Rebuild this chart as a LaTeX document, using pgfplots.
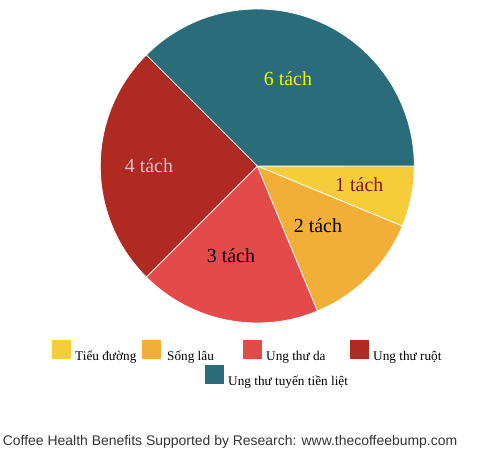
\documentclass[border=0pt]{standalone}
\usepackage{pgfplots}
\pgfplotsset{compat=1.18}
\usepackage{fontspec}
\setmainfont{Liberation Serif}
\newfontfamily\arialfont{Liberation Sans}
\definecolor{cYellow}{RGB}{245,205,58}
\definecolor{cOrange}{RGB}{242,175,55}
\definecolor{cRed}{RGB}{229,74,74}
\definecolor{cDark}{RGB}{175,42,34}
\definecolor{cTeal}{RGB}{42,108,122}
\definecolor{lblYellow}{RGB}{245,240,20}
\definecolor{lblPink}{RGB}{215,195,200}
\definecolor{lblDark}{RGB}{140,20,25}
% values: 1, 2, 3, 4, 6 tach (total 16 -> 22.5 degrees each), clockwise from 0 degrees
\pgfplotsset{
  slice/.style={draw=white, line width=0.75bp, data cs=polar},
}
\begin{document}
\begin{tikzpicture}
\path[use as bounding box] (0,0) rectangle (498bp,462bp);
\begin{axis}[
  at={(0,0)}, anchor=south west, scale only axis,
  x=1bp, y=1bp,
  xmin=-257.3, xmax=240.7, ymin=-296, ymax=166,
  hide axis, clip=false,
  legend image code/.code={\fill[#1, draw=none] (0bp,-3bp) rectangle (19bp,16bp);},
  legend style={draw=none, fill=none, at={(axis cs:-205.3,-174)}, anchor=north west,
    inner sep=0pt, legend columns=-1, font=\fontsize{13.3}{15}\selectfont,
    column sep=0pt,
    /tikz/every odd column/.style={column sep=4bp},
    /tikz/every even column/.style={column sep=0pt},
    nodes={inner sep=0pt}},
]
\addplot[slice, fill=cYellow] coordinates {(0,0) (0,157)} arc[start angle=0, end angle=-22.5, radius=157bp] -- cycle;
\addlegendentry{\makebox[67bp][l]{Tiểu đường}}
\addplot[slice, fill=cOrange] coordinates {(0,0) (-22.5,157)} arc[start angle=-22.5, end angle=-67.5, radius=157bp] -- cycle;
\addlegendentry{\makebox[78bp][l]{\hspace{2bp}Sống lâu}}
\addplot[slice, fill=cRed] coordinates {(0,0) (-67.5,157)} arc[start angle=-67.5, end angle=-135, radius=157bp] -- cycle;
\addlegendentry{\makebox[84bp][l]{Ung thư da}}
\addplot[slice, fill=cDark] coordinates {(0,0) (-135,157)} arc[start angle=-135, end angle=-225, radius=157bp] -- cycle;
\addlegendentry{Ung thư ruột}
\addplot[slice, fill=cTeal, forget plot] coordinates {(0,0) (-225,157)} arc[start angle=-225, end angle=-360, radius=157bp] -- cycle;

\begin{scope}[every node/.style={inner sep=0pt, font=\fontsize{20}{24}\selectfont}]
\node[text=lblYellow] at (axis cs:30.7,87) {6 tách};
\node[text=lblPink] at (axis cs:-108.3,0.7) {4 tách};
\node[text=lblDark] at (axis cs:102,-18.6) {1 tách};
\node[text=black] at (axis cs:60.7,-59.3) {2 tách};
\node[text=black] at (axis cs:-26.3,-89.3) {3 tách};
\end{scope}
\node[anchor=base west, inner sep=0pt, font=\arialfont\fontsize{14}{16}\selectfont, text=black!80] at (axis cs:-254.6,-279.7) {Coffee Health Benefits Supported by Research: www.thecoffeebump.com};
\end{axis}
\begin{axis}[
  at={(0,0)}, anchor=south west, scale only axis,
  x=1bp, y=1bp,
  xmin=-257.3, xmax=240.7, ymin=-296, ymax=166,
  hide axis, clip=false,
  legend image code/.code={\fill[#1, draw=none] (0bp,-3bp) rectangle (19bp,16bp);},
  legend style={draw=none, fill=none, at={(axis cs:-52.3,-199)}, anchor=north west,
    inner sep=0pt, legend columns=-1, font=\fontsize{13.3}{15}\selectfont,
    column sep=0pt,
    /tikz/every odd column/.style={column sep=4bp},
    nodes={inner sep=0pt}},
]
\addlegendimage{fill=cTeal}
\addlegendentry{Ung thư tuyến tiền liệt}
\end{axis}
\end{tikzpicture}
\end{document}
